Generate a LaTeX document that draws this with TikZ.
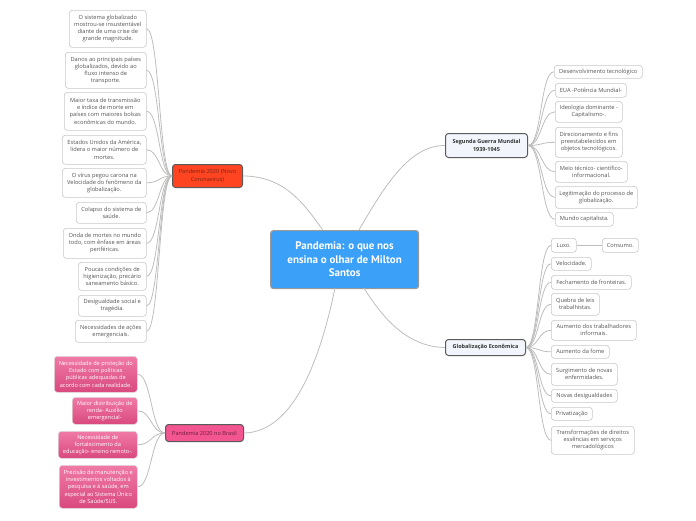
\documentclass[tikz,border=0pt]{standalone}
\usepackage{fontspec}
\setmainfont{Open Sans}
\newfontfamily\ptsans{PT Sans}
\usetikzlibrary{calc}
\definecolor{leafborder}{HTML}{C8C8C8}
\definecolor{leaftext}{HTML}{555555}
\definecolor{conn}{HTML}{BDBDBD}
\definecolor{centerblue}{HTML}{3AA0F8}
\definecolor{redfill}{HTML}{FF4422}
\definecolor{redtext}{HTML}{7A2410}
\definecolor{pinkfill}{HTML}{F2558F}
\definecolor{pinktext}{HTML}{6E1F3E}
\definecolor{pinktop}{HTML}{F07AA6}
\definecolor{pinkbot}{HTML}{D9497E}
\definecolor{lightfill}{HTML}{F2F6FC}
\definecolor{darkborder}{HTML}{5A5A5A}
\tikzset{
  base/.style={rounded corners=3pt, inner sep=0pt, align=center, anchor=north west},
  leaf/.style={base, draw=leafborder, fill=white, line width=0.6pt, text=leaftext,
    font=\fontsize{5.7}{7.1}\selectfont},
  pinkleaf/.style={base, draw=leafborder!60, top color=pinktop, bottom color=pinkbot,
    line width=0.6pt, text=white, font=\fontsize{5.6}{7.2}\selectfont},
  topic/.style={base, draw=darkborder, line width=1pt, font=\fontsize{5.6}{7.5}\selectfont},
  conn/.style={draw=conn, line width=0.8pt},
}
\begin{document}
\begin{tikzpicture}[x=1pt,y=-1pt]
\useasboundingbox (0,0) rectangle (696,520);

% center
\node[base, draw=gray!80, line width=1.2pt, fill=centerblue, text=white,
  minimum width=148, minimum height=58,
  font=\ptsans\bfseries\fontsize{11}{13.5}\selectfont] (center) at (270,230)
  {Pandemia: o que nos\\ensina o olhar de Milton\\Santos};

% main topics
\node[topic, fill=redfill, text=redtext, minimum width=70, minimum height=23] (red) at (172,164)
  {Pandemia 2020 (Novo\\Coronavirus)};
\node[topic, fill=pinkfill, text=pinktext, minimum width=78, minimum height=17] (bra) at (165,424)
  {Pandemia 2020 no Brasil};
\node[topic, fill=lightfill, text=black!80, minimum width=82, minimum height=24,
  font=\bfseries\fontsize{5.5}{7.5}\selectfont] (seg) at (445,133)
  {Segunda Guerra Mundial\\1939-1945};
\node[topic, fill=lightfill, text=black!80, minimum width=80, minimum height=16,
  font=\bfseries\fontsize{5.5}{7.5}\selectfont] (glo) at (445,339)
  {Globalização Econômica};

\coordinate (cRed) at (322.7,230);
\coordinate (cSeg) at (359,230);
\coordinate (cBra) at (335,288);
\coordinate (cGlo) at (364,288);
\draw[conn] (red.east) .. controls (285,176) and (305,205) .. (cRed);
\draw[conn] (cSeg) .. controls (385,185) and (410,145) .. (seg.west);
\draw[conn] (cBra) .. controls (318,370) and (290,432) .. (bra.east);
\draw[conn] (cGlo) .. controls (385,322) and (410,347) .. (glo.west);

% left leaves
\node[leaf, minimum width=77, minimum height=37] (l1) at (69,10)
  {O sistema globalizado\\mostrou-se insustentável\\diante de uma crise de\\grande magnitude.};
\node[leaf, minimum width=81, minimum height=36] (l2) at (65,52)
  {Danos ao principais países\\globalizados, devido ao\\fluxo intenso de\\transporte.};
\node[leaf, minimum width=82, minimum height=38] (l3) at (64,92)
  {Maior taxa de transmissão\\e índice de morte em\\países com maiores bolsas\\econômicas do mundo.};
\node[leaf, minimum width=84, minimum height=29] (l4) at (62,135)
  {Estados Unidos da América,\\lidera o maior número de\\mortes.};
\node[leaf, minimum width=84, minimum height=29] (l5) at (62,168)
  {O vírus pegou carona na\\Velocidade do fenômeno da\\globalização.};
\node[leaf, minimum width=70, minimum height=21] (l6) at (76,202)
  {Colapso do sistema de\\saúde.};
\node[leaf, minimum width=83, minimum height=30] (l7) at (63,228)
  {Onda de mortes no mundo\\todo, com ênfase em áreas\\periféricas.};
\node[leaf, minimum width=68, minimum height=28] (l8) at (78,262)
  {Poucas condições de\\higienização, precário\\saneamento básico.};
\node[leaf, minimum width=68, minimum height=21] (l9) at (78,295)
  {Desigualdade social e\\tragédia.};
\node[leaf, minimum width=71, minimum height=22] (l10) at (75,320)
  {Necessidades de ações\\emergenciais.};
\foreach \n in {l1,l2,l3,l4,l5,l6,l7,l8,l9,l10}
  \draw[conn] (red.west) .. controls +(-13,0) and +(13,0) .. (\n.east);

% pink leaves
\node[pinkleaf, minimum width=83, minimum height=36] (p1) at (54,356)
  {Necessidade de proteção do\\Estado com políticas\\públicas adequadas de\\acordo com cada realidade.};
\node[pinkleaf, minimum width=65, minimum height=27] (p2) at (72,397)
  {Maior distribuição de\\renda- Auxílio\\emergencial-};
\node[pinkleaf, minimum width=79, minimum height=27] (p3) at (58,431)
  {Necessidade de\\fortalecimento da\\educação- ensino remoto-.};
\node[pinkleaf, minimum width=78, minimum height=43] (p4) at (59,465)
  {Precisão de manutenção e\\investimentos voltados à\\pesquisa e à saúde, em\\especial ao Sistema Único\\de Saúde/SUS.};
\foreach \n in {p1,p2,p3,p4}
  \draw[conn] (bra.west) .. controls +(-14,0) and +(14,0) .. (\n.east);

% Segunda Guerra leaves
\node[leaf, minimum width=88, minimum height=13] (s1) at (554,65) {Desenvolvimento tecnológico};
\node[leaf, minimum width=71, minimum height=14] (s2) at (555,83) {EUA -Potência Mundial-};
\node[leaf, minimum width=67, minimum height=21] (s3) at (555,101) {Ideologia dominante -\\Capitalismo-.};
\node[leaf, minimum width=67, minimum height=30] (s4) at (555,127) {Direcionamento e fins\\preestabelecidos em\\objetos tecnológicos.};
\node[leaf, minimum width=72, minimum height=21] (s5) at (555,161) {Meio técnico- científico-\\informacional.};
\node[leaf, minimum width=82, minimum height=22] (s6) at (555,186) {Legitimação do processo de\\globalização.};
\node[leaf, minimum width=58, minimum height=14] (s7) at (555,212) {Mundo capitalista.};
\foreach \n in {s1,s2,s3,s4,s5,s6,s7}
  \draw[conn] (seg.east) .. controls +(14,0) and +(-14,0) .. (\n.west);

% Globalizacao leaves
\node[leaf, minimum width=25, minimum height=14] (g1) at (551,238) {Luxo.};
\node[leaf, minimum width=36, minimum height=14] (g1b) at (602,238) {Consumo.};
\node[leaf, minimum width=40, minimum height=13] (g2) at (551,257) {Velocidade.};
\node[leaf, minimum width=80, minimum height=14] (g3) at (551,275) {Fechamento de fronteiras.};
\node[leaf, minimum width=48, minimum height=22] (g4) at (551,293) {Quebra de leis\\trabalhistas.};
\node[leaf, minimum width=85, minimum height=20] (g5) at (551,320) {Aumento dos trabalhadores\\informais.};
\node[leaf, minimum width=58, minimum height=13] (g6) at (551,345) {Aumento da fome};
\node[leaf, minimum width=66, minimum height=22] (g7) at (551,363) {Surgimento de novas\\enfermidades.};
\node[leaf, minimum width=66, minimum height=13] (g8) at (551,389) {Novas desigualdades};
\node[leaf, minimum width=41, minimum height=13] (g9) at (551,407) {Privatização};
\node[leaf, minimum width=83, minimum height=28] (g10) at (551,426) {Transformações de direitos\\essências em serviços\\mercadológicos};
\foreach \n in {g1,g2,g3,g4,g5,g6,g7,g8,g9,g10}
  \draw[conn] (glo.east) .. controls +(13,0) and +(-13,0) .. (\n.west);
\draw[conn] (g1.east) -- (g1b.west);
\end{tikzpicture}
\end{document}
